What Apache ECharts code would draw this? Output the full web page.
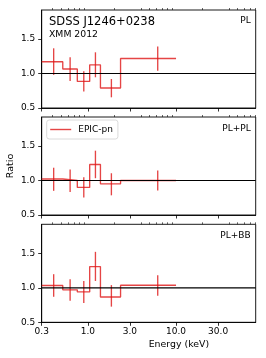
<!DOCTYPE html>
<html><head><meta charset="utf-8">
<script src="https://cdn.jsdelivr.net/npm/echarts@6/dist/echarts.min.js"></script>
<style>html,body{margin:0;padding:0;background:#fff}#c{width:266px;height:358px}</style>
</head><body><div id="c"></div>
<script>
// ---- data ----
const binEdges = [0.3, 0.52, 0.76, 1.05, 1.39, 2.35, 10.0];
const binCenters = [0.41, 0.63, 0.90, 1.22, 1.85, 6.2];
const plRatio = [1.17, 1.065, 0.885, 1.125, 0.79, 1.217];
const plLow   = [0.98, 0.89, 0.74, 0.945, 0.655, 1.04];
const plHigh  = [1.365, 1.235, 1.032, 1.307, 0.92, 1.39];
const plplRatio = [1.022, 1.0, 0.90, 1.232, 0.952, 1.0];
const plplLow   = [0.85, 0.833, 0.752, 1.033, 0.785, 0.856];
const plplHigh  = [1.185, 1.16, 1.048, 1.432, 1.105, 1.144];
const plbbRatio = [1.033, 0.97, 0.94, 1.307, 0.866, 1.037];
const plbbLow   = [0.87, 0.813, 0.78, 1.099, 0.727, 0.885];
const plbbHigh  = [1.197, 1.125, 1.10, 1.521, 1.039, 1.183];
const panelLabels = ['PL', 'PL+PL', 'PL+BB'];
const xMajorTicks = [0.3, 1, 3, 10, 30];
const xMajorLabels = ['0.3', '1.0', '3.0', '10.0', '30.0'];
const xMinorTicks = [0.4,0.5,0.6,0.7,0.8,0.9,2,4,5,6,7,8,9,20,40,50,60,70,80];
const yTicks = [0.5, 1.0, 1.5];
const xRange = [0.3, 80];
const yRange = [0.5, 1.92];
const legendName = 'EPIC-pn';
const xTitle = 'Energy (keV)';
const yTitle = 'Ratio';
const objName = 'SDSS J1246+0238';
const obsName = 'XMM 2012';

const panels = [
  {ratio: plRatio, low: plLow, high: plHigh},
  {ratio: plplRatio, low: plplLow, high: plplHigh},
  {ratio: plbbRatio, low: plbbLow, high: plbbHigh}
];

// ---- build ----
const L = Math.log10;
const RED = 'rgba(222,22,22,0.8)';
const FONT = 'DejaVu Sans';
const xMin = L(xRange[0]), xMax = L(xRange[1]);
const tops = [10, 117, 224.3];
const H = 98;

const grid = [], xAxis = [], yAxis = [], series = [];
panels.forEach((p, i) => {
  grid.push({left: 41.7, right: 10.3, top: tops[i], height: H, show: true,
    borderColor: '#000', borderWidth: 0.9, backgroundColor: 'transparent'});
  const isBottom = i === 2;
  xAxis.push({type: 'value', gridIndex: i, min: xMin, max: xMax,
    axisLine: {show: true, onZero: false, lineStyle: {color: '#000', width: 0.9}},
    axisTick: {show: true, length: 3.5, customValues: xMajorTicks.map(L), lineStyle: {color: '#000', width: 0.8}},
    axisLabel: {show: isBottom, customValues: xMajorTicks.map(L), margin: 5,
      fontFamily: FONT, fontSize: 9, color: '#000',
      formatter: v => { const k = xMajorTicks.findIndex(t => Math.abs(L(t) - v) < 1e-6); return k >= 0 ? xMajorLabels[k] : ''; }},
    splitLine: {show: false}});
  xAxis.push({type: 'value', gridIndex: i, min: xMin, max: xMax,
    axisLine: {show: false, onZero: false},
    axisTick: {show: true, length: 2, customValues: xMinorTicks.map(L), lineStyle: {color: '#000', width: 0.6}},
    axisLabel: {show: false}, splitLine: {show: false}});
  yAxis.push({type: 'value', gridIndex: i, min: yRange[0], max: yRange[1],
    axisLine: {show: true, onZero: false, lineStyle: {color: '#000', width: 0.9}},
    axisTick: {show: true, length: 3.5, customValues: yTicks, lineStyle: {color: '#000', width: 0.8}},
    axisLabel: {customValues: yTicks, margin: 6.5, fontFamily: FONT, fontSize: 9, color: '#000',
      formatter: v => v.toFixed(1)},
    splitLine: {show: false}});

  // step line
  const stepData = [];
  p.ratio.forEach((v, k) => {
    stepData.push([L(binEdges[k]), v]);
    stepData.push([L(binEdges[k + 1]), v]);
  });
  series.push({type: 'line', name: i === 1 ? legendName : 'step' + i,
    xAxisIndex: 2 * i, yAxisIndex: i, data: stepData, symbol: 'none', showSymbol: false,
    lineStyle: {color: RED, width: 1.35}, itemStyle: {color: RED}, animation: false, z: 2});
  // error bars
  series.push({type: 'custom', name: 'err' + i, xAxisIndex: 2 * i, yAxisIndex: i,
    data: binCenters.map((c, k) => [L(c), p.low[k], p.high[k]]),
    encode: {x: 0, y: [1, 2]},
    renderItem: (params, api) => {
      const a = api.coord([api.value(0), api.value(1)]);
      const b = api.coord([api.value(0), api.value(2)]);
      return {type: 'line', shape: {x1: a[0], y1: a[1], x2: b[0], y2: b[1]},
        style: {stroke: RED, lineWidth: 1.35}};
    }, animation: false, z: 2});
  // ratio = 1 reference line
  series.push({type: 'line', name: 'one' + i, xAxisIndex: 2 * i, yAxisIndex: i,
    data: [[xMin, 1], [xMax, 1]], symbol: 'none', silent: true,
    lineStyle: {color: '#000', width: 1.2}, animation: false, z: 5});
});

const graphic = [
  {type: 'text', left: 49, top: 16.5, style: {text: objName, font: '11.5px "DejaVu Sans"', fill: '#000'}},
  {type: 'text', left: 49, top: 30.5, style: {text: obsName, font: '9.3px "DejaVu Sans"', fill: '#000'}},
  {type: 'text', left: 148.7, top: 340, style: {text: xTitle, font: '9.4px "DejaVu Sans"', fill: '#000', textAlign: 'center'}},
  {type: 'text', x: 6, y: 166, rotation: Math.PI / 2,
    style: {text: yTitle, font: '9.5px "DejaVu Sans"', fill: '#000', textAlign: 'center', textVerticalAlign: 'top'}}
];
const labTops = [16.5, 124, 231.5];
panelLabels.forEach((t, i) => {
  graphic.push({type: 'text', right: 15.3, top: labTops[i],
    style: {text: t, font: '9px "DejaVu Sans"', fill: '#000'}});
});

const chart = echarts.init(document.getElementById('c'), null, {renderer: 'canvas'});
chart.setOption({
  animation: false,
  grid, xAxis, yAxis, series, graphic,
  legend: {data: [{name: legendName, icon: 'rect'}], left: 46.7, top: 120, orient: 'vertical',
    itemWidth: 21, itemHeight: 1.4, padding: [4, 5, 4, 3.5], itemGap: 0,
    itemStyle: {color: RED, borderWidth: 0},
    borderColor: '#d0d0d0', borderWidth: 0.8, borderRadius: 2.5, backgroundColor: 'rgba(255,255,255,0.8)',
    textStyle: {fontFamily: FONT, fontSize: 9, color: '#000', padding: [0, 0, 0, 2], lineHeight: 11}}
});
</script></body></html>
